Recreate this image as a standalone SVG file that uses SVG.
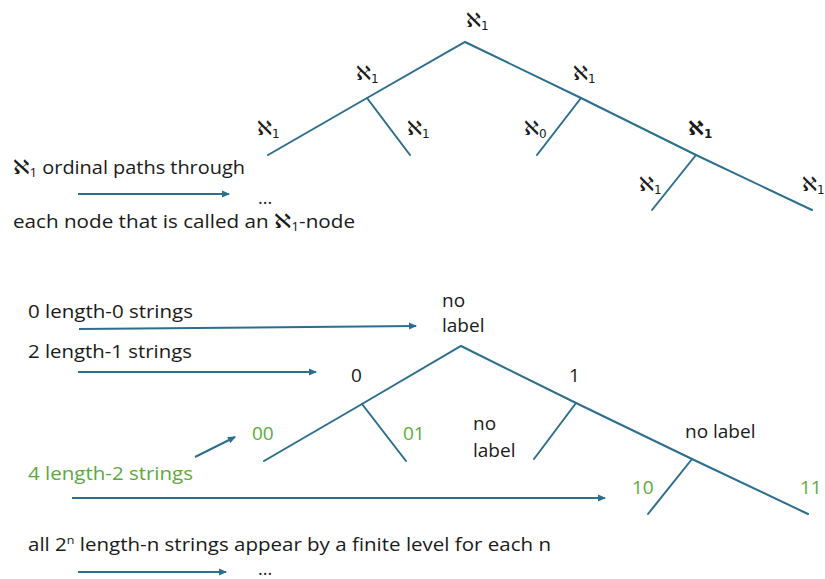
<svg xmlns="http://www.w3.org/2000/svg" width="825" height="579" viewBox="0 0 825 579">
<style>
.t{font-family:"Open Sans","DejaVu Sans","Liberation Sans",sans-serif;font-size:18px;fill:#1a1a1a}
.lbl{font-family:"Open Sans","DejaVu Sans","Liberation Sans",sans-serif;font-size:19px;fill:#1a1a1a}
.al{font-family:"DejaVu Sans","Open Sans",sans-serif;font-size:20px;fill:#1a1a1a}
.t.g,.lbl.g{fill:#5bab3a}
.sub{font-size:12px}
.e{stroke:#2c6e8e;stroke-width:2;fill:none;stroke-linecap:round}
.a{stroke:#2c6e8e;stroke-width:2;fill:none;marker-end:url(#ah)}
</style>
<defs>
<marker id="ah" markerWidth="8" markerHeight="8" refX="7" refY="4" orient="auto" markerUnits="userSpaceOnUse">
<path d="M0,0.5 L8,4 L0,7.5 Z" fill="#2c6e8e"/>
</marker>
</defs>
<rect width="825" height="579" fill="#ffffff"/>
<g id="connectors">
<path class="e" d="M268,155 L367,98 L465,42 L581,98 L696,155 L812,210"/>
<path class="e" d="M367,98 L410,155"/>
<path class="e" d="M581,98 L537,155"/>
<path class="e" d="M696,155 L652,210"/>
<path class="e" d="M264,461 L362,404 L461,346 L576,403 L692,459 L808,514"/>
<path class="e" d="M362,404 L406,461"/>
<path class="e" d="M576,403 L534,459"/>
<path class="e" d="M692,459 L648,514"/>
<path class="a" d="M78,194 L229,194"/>
<path class="a" d="M79,329 L416,326"/>
<path class="a" d="M78,372 L316,372"/>
<path class="a" d="M195,457 L235,437"/>
<path class="a" d="M72,498 L605,498"/>
<path class="a" d="M78,572 L226,572"/>
</g>
<g id="top-root"><text class="al" x="466" y="27">ℵ<tspan class="sub" dy="3">1</tspan></text></g>
<g id="top-left"><text class="al" x="356" y="80">ℵ<tspan class="sub" dy="3">1</tspan></text></g>
<g id="top-right"><text class="al" x="573" y="80">ℵ<tspan class="sub" dy="3">1</tspan></text></g>
<g id="top-ll"><text class="al" x="257" y="135">ℵ<tspan class="sub" dy="3">1</tspan></text></g>
<g id="top-lr"><text class="al" x="407" y="135">ℵ<tspan class="sub" dy="3">1</tspan></text></g>
<g id="top-rl"><text class="al" x="524" y="135">ℵ<tspan class="sub" dy="3">0</tspan></text></g>
<g id="top-rr"><text class="al" x="688" y="135" font-weight="bold">ℵ<tspan class="sub" dy="3">1</tspan></text></g>
<g id="top-rrl"><text class="al" x="639" y="191">ℵ<tspan class="sub" dy="3">1</tspan></text></g>
<g id="top-rrr"><text class="al" x="802" y="191">ℵ<tspan class="sub" dy="3">1</tspan></text></g>
<g id="top-notes">
<text class="t" x="13" y="174" font-size="19" textLength="232" lengthAdjust="spacingAndGlyphs"><tspan font-family="DejaVu Sans" font-size="20">ℵ</tspan><tspan class="sub" dy="3">1</tspan><tspan dy="-3"> ordinal paths through</tspan></text>
<text class="t" x="258" y="204" font-size="13">...</text>
<text class="t" x="13" y="228" font-size="19" textLength="342" lengthAdjust="spacingAndGlyphs">each node that is called an <tspan font-family="DejaVu Sans" font-size="20">ℵ</tspan><tspan class="sub" dy="3">1</tspan><tspan dy="-3">-node</tspan></text>
</g>
<g id="bot-root"><text class="lbl" x="442" y="307">no</text><text class="lbl" x="442" y="332">label</text></g>
<g id="bot-0"><text class="lbl" x="351" y="382">0</text></g>
<g id="bot-1"><text class="lbl" x="569" y="382">1</text></g>
<g id="bot-00"><text class="lbl g" x="252" y="440">00</text></g>
<g id="bot-01"><text class="lbl g" x="403" y="440">01</text></g>
<g id="bot-1l"><text class="lbl" x="473" y="430">no</text><text class="lbl" x="473" y="457">label</text></g>
<g id="bot-1r"><text class="lbl" x="685" y="438">no label</text></g>
<g id="bot-10"><text class="lbl g" x="632" y="494">10</text></g>
<g id="bot-11"><text class="lbl g" x="800" y="494">11</text></g>
<g id="bot-notes">
<text class="t" x="28" y="318" textLength="165" lengthAdjust="spacingAndGlyphs">0 length-0 strings</text>
<text class="t" x="28" y="358" textLength="164" lengthAdjust="spacingAndGlyphs">2 length-1 strings</text>
<text class="t g" x="28" y="480" textLength="165" lengthAdjust="spacingAndGlyphs">4 length-2 strings</text>
<text class="t" x="28" y="551" textLength="523" lengthAdjust="spacingAndGlyphs">all 2<tspan font-size="11" dy="-7">n</tspan><tspan dy="7"> length-n strings appear by a finite level for each n</tspan></text>
<text class="t" x="258" y="575" font-size="11">...</text>
</g>
</svg>
